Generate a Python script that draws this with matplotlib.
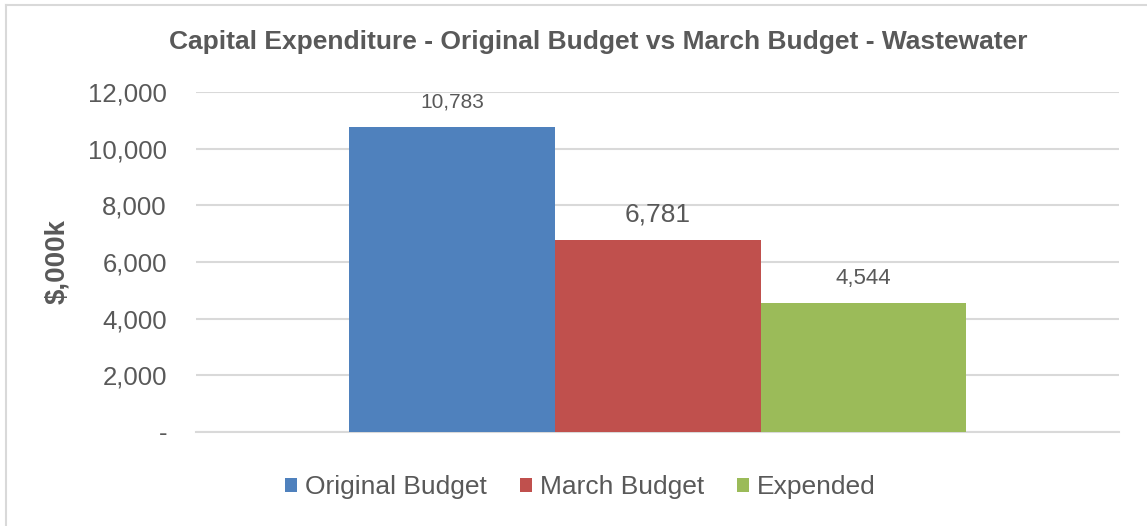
import matplotlib.pyplot as plt
from matplotlib.lines import Line2D
from matplotlib.ticker import FuncFormatter

series = ['Original Budget', 'March Budget', 'Expended']
values = [10783, 6781, 4544]
colors = ['#4F81BD', '#C0504D', '#9BBB59']
label_sizes = [15, 19, 16]

plt.rcParams['font.family'] = ['Liberation Sans', 'DejaVu Sans']
grey = '#595959'

fig = plt.figure(figsize=(11.47, 5.26), dpi=100)
ax = fig.add_axes([0.171, 0.179, 0.805, 0.646])

width = 0.2228
offsets = [-width, 0, width]
for name, val, col, off, fs in zip(series, values, colors, offsets, label_sizes):
    ax.bar(off, val, width=width, color=col, label=name, zorder=3)
    ax.annotate(f'{val:,}', (off, val), xytext=(0, 18), textcoords='offset points',
                ha='center', va='center', fontsize=fs, color=grey)

ax.set_xlim(-0.5, 0.5)
ax.set_ylim(0, 12000)
ax.set_yticks(range(0, 12001, 2000))
ax.yaxis.set_major_formatter(FuncFormatter(lambda v, p: '-' if v == 0 else f'{int(v):,}'))
ax.set_xticks([])
ax.tick_params(axis='y', length=0, labelsize=18.5, labelcolor=grey, pad=21)
ax.grid(axis='y', color='#d9d9d9', linewidth=1.5, zorder=0)
for s in ['top', 'right', 'left']:
    ax.spines[s].set_visible(False)
ax.spines['bottom'].set_color('#d9d9d9')
ax.spines['bottom'].set_linewidth(1.5)

ax.set_ylabel('$,000k', fontsize=20, fontweight='bold', color=grey, labelpad=13)

fig.text(0.522, 0.92, 'Capital Expenditure - Original Budget vs March Budget - Wastewater',
         ha='center', va='center', fontsize=19, fontweight='bold', color=grey)

fig.legend(loc='center', bbox_to_anchor=(0.506, 0.074), ncol=3, frameon=False,
           fontsize=19, labelcolor=grey, handlelength=0.45, handleheight=0.45,
           handletextpad=0.3, columnspacing=1.25)

# outer chart frame (top and left edges only visible)
fig.add_artist(Line2D([6 / 1147, 1], [1 - 5 / 526, 1 - 5 / 526], color='#d9d9d9', lw=1.5))
fig.add_artist(Line2D([6 / 1147, 6 / 1147], [0, 1 - 5 / 526], color='#d9d9d9', lw=1.5))

fig.savefig('out.png', dpi=100)
